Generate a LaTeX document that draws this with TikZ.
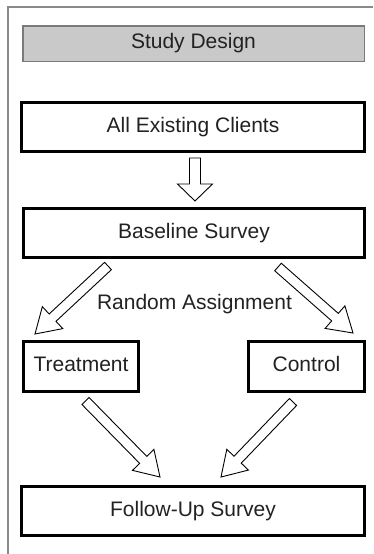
\documentclass[tikz,border=0pt]{standalone}
\usepackage{fontspec}
\setmainfont{Liberation Sans}
\usetikzlibrary{calc}
\definecolor{framegray}{HTML}{8A8A8A}
\definecolor{titlefill}{HTML}{C9C9C9}
\definecolor{titledraw}{HTML}{7A7A7A}
\definecolor{txt}{HTML}{222222}
\newcommand{\myblockarrow}[5]{%
  \coordinate (ba-h) at ($(#2)!#5!(#1)$);
  \draw[blockarrow] ($(#1)!#3!90:(#2)$) -- ($(ba-h)!#3!90:(#2)$) -- ($(ba-h)!#4!90:(#2)$) -- (#2)
    -- ($(ba-h)!#4!-90:(#2)$) -- ($(ba-h)!#3!-90:(#2)$) -- ($(#1)!#3!-90:(#2)$) -- cycle;
}
\begin{document}
\begin{tikzpicture}[x=1pt,y=-1pt,
  txtstyle/.style={font=\fontsize{21}{25}\selectfont, text=txt, text height=15pt, text depth=4.4pt},
  titlebox/.style={txtstyle, draw=titledraw, fill=titlefill, line width=1.5pt, inner sep=0pt},
  stagebox/.style={txtstyle, draw=black, line width=3pt, inner sep=0pt, fill=white},
  blockarrow/.style={draw=black, fill=white, line width=0.9pt, line join=miter}
]
\useasboundingbox (0,0) rectangle (373,554);
\fill[white] (0,0) rectangle (373,554);
% frame
\draw[framegray, line width=1.6pt] (8,554) -- (8,7) -- (373,7);
% boxes
\node[titlebox, minimum width=341.5pt, minimum height=35.5pt] (title) at (193.5,43.5) {Study Design};
\node[stagebox, minimum width=343pt, minimum height=49pt] (clients) at (193,127) {All Existing Clients};
\node[stagebox, minimum width=341pt, minimum height=49pt] (baseline) at (194,233) {Baseline Survey};
\node[stagebox, minimum width=115pt, minimum height=50pt] (treat) at (81,366.5) {Treatment};
\node[stagebox, minimum width=116pt, minimum height=50pt] (control) at (306.5,366.5) {Control};
\node[stagebox, minimum width=343pt, minimum height=49pt] (follow) at (193,511) {Follow-Up Survey};
\node[txtstyle, anchor=base, inner sep=0pt] (random) at (194.5,309.5) {Random Assignment};
% arrow end points
\coordinate (a1t) at (195,158);
\coordinate (a1h) at (195,201);
\coordinate (a2t) at (108,266);
\coordinate (a2h) at (35,334);
\coordinate (a3t) at (278,267);
\coordinate (a3h) at (353,333);
\coordinate (a4t) at (85.5,401);
\coordinate (a4h) at (160,477);
\coordinate (a5t) at (293,402);
\coordinate (a5h) at (221,477);
% arrows
\myblockarrow{a1t}{a1h}{5.5pt}{17.5pt}{17pt}
\myblockarrow{a2t}{a2h}{5pt}{15pt}{24pt}
\myblockarrow{a3t}{a3h}{5pt}{15pt}{24pt}
\myblockarrow{a4t}{a4h}{5pt}{15pt}{24pt}
\myblockarrow{a5t}{a5h}{5pt}{15pt}{24pt}
\end{tikzpicture}
\end{document}
